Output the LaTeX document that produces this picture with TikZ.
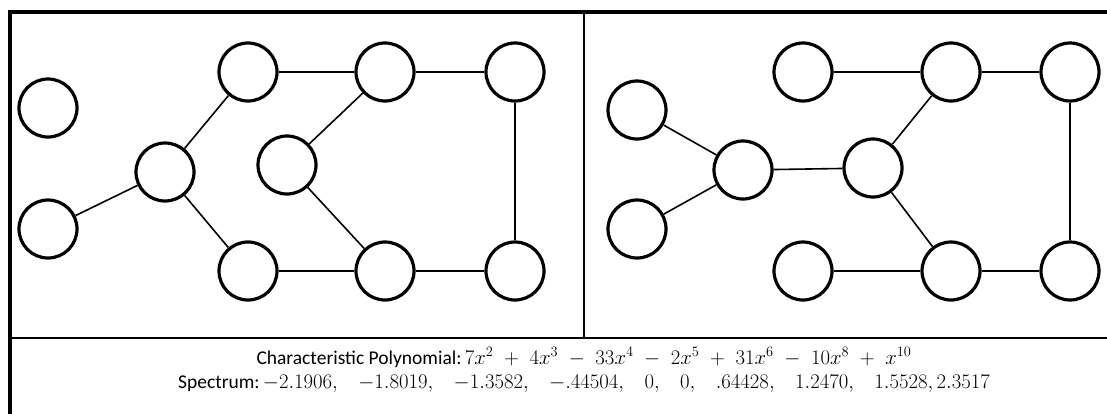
\documentclass[tikz,border=0pt]{standalone}
\usepackage{fontspec}
\setmainfont{Carlito}
\usepackage{tikz}

\newcommand{\mathbig}[1]{{\fontsize{20.5}{24}\selectfont\medmuskip=9.2mu$#1$}}
\newcommand{\sgap}{\hspace{17pt}}

\begin{document}
\begin{tikzpicture}[
    x=1pt, y=-1pt,
    vertex/.style={circle, draw, line width=3.2pt, minimum size=58pt, inner sep=0pt},
    edge/.style={line width=1.6pt},
    frame/.style={line width=4pt},
    divider/.style={line width=2pt},
    caption/.style={font=\fontsize{19.5}{24}\selectfont, align=center, inner sep=0pt}
]
    \useasboundingbox (0,0) rectangle (1107,413);

    % outer frame and panels
    \draw[frame] (10,415) -- (10,12) -- (1109,12);
    \draw[divider] (10,338) -- (1109,338);
    \draw[divider] (584,12) -- (584,338);

    % left graph
    \node[vertex] (A) at (48,108) {};
    \node[vertex] (B) at (48,229) {};
    \node[vertex] (C) at (165,172) {};
    \node[vertex] (D) at (248,72) {};
    \node[vertex] (E) at (248,271) {};
    \node[vertex] (F) at (287,165) {};
    \node[vertex] (G) at (385,72) {};
    \node[vertex] (H) at (385,271) {};
    \node[vertex] (I) at (515,72) {};
    \node[vertex] (J) at (515,271) {};

    \draw[edge] (B) -- (C);
    \draw[edge] (C) -- (D);
    \draw[edge] (C) -- (E);
    \draw[edge] (D) -- (G);
    \draw[edge] (G) -- (F);
    \draw[edge] (G) -- (I);
    \draw[edge] (F) -- (H);
    \draw[edge] (E) -- (H);
    \draw[edge] (H) -- (J);
    \draw[edge] (I) -- (J);

    % right graph
    \node[vertex] (a) at (637,110) {};
    \node[vertex] (b) at (637,229) {};
    \node[vertex] (c) at (743,170) {};
    \node[vertex] (d) at (803,72) {};
    \node[vertex] (e) at (803,271) {};
    \node[vertex] (f) at (873,168) {};
    \node[vertex] (g) at (951,72) {};
    \node[vertex] (h) at (951,271) {};
    \node[vertex] (i) at (1070,72) {};
    \node[vertex] (j) at (1070,271) {};

    \draw[edge] (a) -- (c);
    \draw[edge] (b) -- (c);
    \draw[edge] (c) -- (f);
    \draw[edge] (d) -- (g);
    \draw[edge] (g) -- (f);
    \draw[edge] (g) -- (i);
    \draw[edge] (f) -- (h);
    \draw[edge] (e) -- (h);
    \draw[edge] (h) -- (j);
    \draw[edge] (i) -- (j);

    % polynomial and spectrum
    \node[caption] (info) at (584,370) {Characteristic Polynomial:\,\mathbig{7x^2+4x^3-33x^4-2x^5+31x^6-10x^8+x^{10}}\\
        Spectrum:\,\mathbig{-2.1906,\sgap -1.8019,\sgap -1.3582,\sgap -.44504,\sgap 0,\sgap 0,\sgap .64428,\sgap 1.2470,\sgap 1.5528,2.3517}};
\end{tikzpicture}
\end{document}
